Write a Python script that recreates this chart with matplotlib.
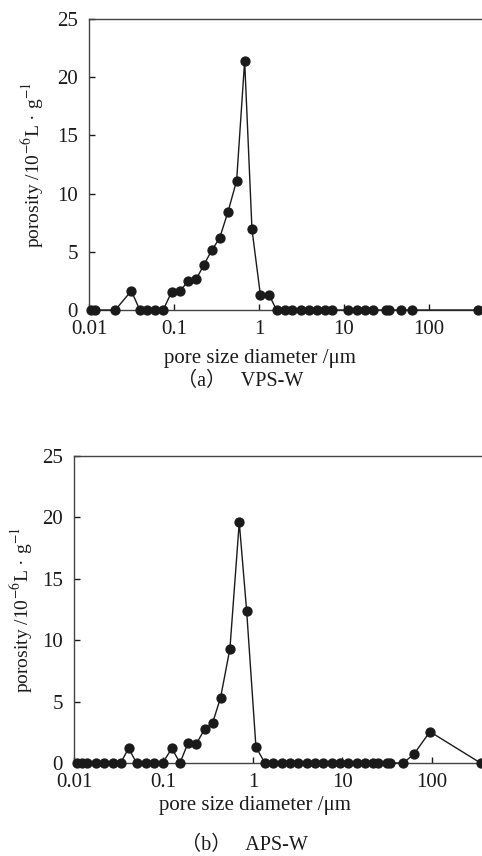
import matplotlib
matplotlib.use("Agg")
import matplotlib.pyplot as plt

plt.rcParams['font.family'] = ['Liberation Serif', 'Noto Sans CJK SC']
plt.rcParams['mathtext.fontset'] = 'stix'

# (a) VPS-W : pore diameter (um) and porosity (1e-6 L/g)
vps_diameter = [0.0105, 0.0118, 0.0204, 0.0315, 0.0396, 0.0487, 0.0605, 0.0747,
                0.0937, 0.118, 0.148, 0.182, 0.226, 0.279, 0.344, 0.431, 0.546,
                0.679, 0.828, 1.04, 1.32, 1.61, 2.02, 2.47, 3.13, 3.88, 4.83,
                6.01, 7.21, 11.3, 14.1, 17.5, 21.8, 31.4, 33.7, 46.8, 62.7, 375]
vps_porosity = [0, 0, 0, 1.65, 0, 0, 0, 0,
                1.55, 1.63, 2.52, 2.63, 3.9, 5.15, 6.16, 8.4, 11.1,
                21.4, 6.93, 1.29, 1.29, 0, 0, 0, 0, 0, 0,
                0, 0, 0, 0, 0, 0, 0, 0, 0, 0, 0]

# (b) APS-W
aps_diameter = [0.0107, 0.0122, 0.0139, 0.0176, 0.0216, 0.027, 0.0332, 0.0408,
                0.050, 0.0637, 0.078, 0.098, 0.124, 0.153, 0.188, 0.231, 0.288,
                0.355, 0.435, 0.553, 0.703, 0.85, 1.08, 1.36, 1.69, 2.09, 2.59,
                3.2, 3.98, 4.93, 6.11, 7.57, 9.38, 11.6, 14.4, 17.8, 22.1, 25.1,
                31.2, 33.9, 47.9, 63.1, 95, 350]
aps_porosity = [0, 0, 0, 0, 0, 0, 0, 1.2,
                0, 0, 0, 0, 1.2, 0, 1.63, 1.52, 2.74,
                3.29, 5.33, 9.32, 19.6, 12.4, 1.3, 0, 0, 0, 0,
                0, 0, 0, 0, 0, 0, 0, 0, 0, 0, 0,
                0, 0, 0, 0.73, 2.55, 0]

W, H = 482, 856
fig = plt.figure(figsize=(W / 100, H / 100), dpi=100)

dark = '#1a1a1a'


def draw_panel(rect, x, y, xmax, ylab_x, xlab_x, xlab_y):
    ax = fig.add_axes(rect)
    ax.plot(x, y, '-o', color=dark, lw=1.0, ms=6.4, clip_on=False, zorder=3)
    ax.set_xscale('log')
    ax.set_xlim(0.01, xmax)
    ax.set_ylim(0, 25)
    ax.set_xticks([0.01, 0.1, 1, 10, 100])
    ax.set_xticklabels(['0.01', '0.1', '1', '10', '100'])
    ax.set_yticks([0, 5, 10, 15, 20, 25])
    ax.minorticks_off()
    ax.tick_params(direction='in', length=4, width=1, colors=dark,
                   labelsize=15, pad=7.5)
    ax.tick_params(axis='y', pad=8)
    for side in ['left', 'bottom', 'top']:
        ax.spines[side].set_color('#444444')
        ax.spines[side].set_linewidth(1.0)
    ax.spines['right'].set_visible(False)
    ax.set_xlabel('pore size diameter /μm', fontsize=15, color=dark)
    ax.xaxis.set_label_coords(xlab_x, xlab_y)
    ax.xaxis.label.set_va('center')
    ax.set_ylabel('porosity /10$^{-6}$L · g$^{-1}$', fontsize=14, color=dark)
    ax.yaxis.set_label_coords(ylab_x, 0.5)
    ax.yaxis.label.set_va('center')
    return ax


draw_panel([89 / W, 1 - 310 / H, 393 / W, 291 / H],
           vps_diameter, vps_porosity, 422, -0.1425, 0.435, -0.168)
draw_panel([74 / W, 1 - 763 / H, 408 / W, 307 / H],
           aps_diameter, aps_porosity, 363, -0.128, 0.444, -0.14)

fig.text(240 / W, 1 - 381 / H, '（a）   VPS-W', ha='center', va='center',
         fontsize=14.5, color=dark)
fig.text(244 / W, 1 - 845 / H, '（b）   APS-W', ha='center', va='center',
         fontsize=14.5, color=dark)

plt.savefig('out.png', dpi=100)
